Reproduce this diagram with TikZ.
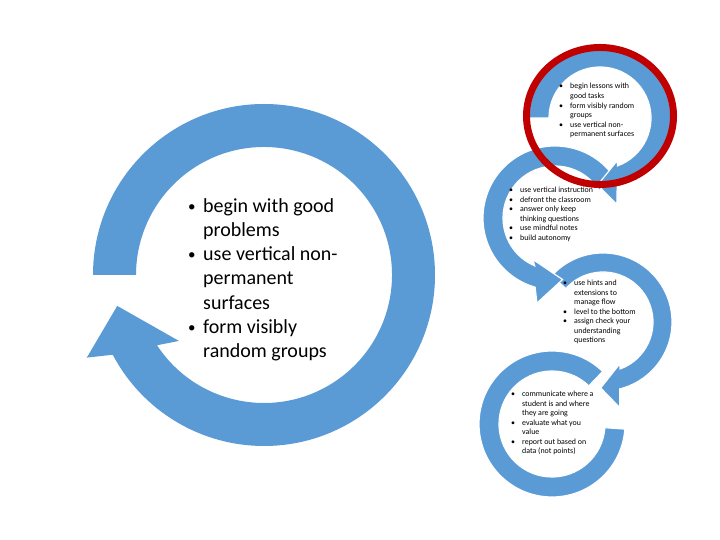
\documentclass[tikz,border=0pt]{standalone}
\usepackage{fontspec}
\setmainfont{Carlito}
\usetikzlibrary{calc}

\definecolor{arrowblue}{HTML}{5B9BD5}
\definecolor{ringred}{HTML}{C00000}

\newcommand{\bigbul}{\makebox[15pt][l]{\raisebox{1pt}{\scalebox{0.75}{\textbullet}}}}
\newcommand{\bigind}{\hspace*{15pt}}
\newcommand{\smbul}{\makebox[11pt][l]{\textbullet}}
\newcommand{\smind}{\hspace*{11pt}}

\tikzset{
  bigtext/.style={anchor=base west, inner sep=0pt, font=\fontsize{20}{24.1}\selectfont},
  smalltext/.style={anchor=base west, inner sep=0pt, font=\fontsize{7.9}{9.55}\selectfont},
  bigband/.style={fill=arrowblue},
  smallband/.style={fill=arrowblue, draw=white, line width=1.2pt},
}

\begin{document}
\begin{tikzpicture}[x=1pt, y=1pt]
    \useasboundingbox (0,0) rectangle (720,540);
    \fill[white] (0,0) rectangle (720,540);

    % large circular arrow on the left
    \begin{scope}[shift={(264,265)}]
        \fill[bigband] (180:171) arc[start angle=180, end angle=-152.2, radius=171]
            -- (-155:195.5) -- (-168.1:150) -- (-142.2:107.6) -- (-146.7:128)
            arc[start angle=-146.7, end angle=180, radius=128] -- cycle;
    \end{scope}
    \node[bigtext] (mainlist) at (188,327.3) {\parbox[t]{200pt}{%
        \bigbul begin with good\\
        \bigind problems\\
        \bigbul use vertical non-\\
        \bigind permanent\\
        \bigind surfaces\\
        \bigbul form visibly\\
        \bigind random groups}};

    % small circular arrows, bottom one first
    \begin{scope}[shift={(552,116)}]
        \filldraw[smallband] (46:73) arc[start angle=46, end angle=356, radius=73]
            -- (356:53) arc[start angle=356, end angle=46, radius=53] -- cycle;
    \end{scope}
    \begin{scope}[shift={(603,218)}]
        \filldraw[smallband] (138:69) arc[start angle=138, end angle=-76, radius=69]
            -- (-79:87) -- (-92:66) -- (-68:45) -- (-70:50)
            arc[start angle=-70, end angle=138, radius=50] -- cycle;
    \end{scope}
    \begin{scope}[shift={(555,322)}]
        \filldraw[smallband] (32:72) arc[start angle=32, end angle=254, radius=72]
            -- (258:87) -- (277:62) -- (242:47) -- (247:52)
            arc[start angle=247, end angle=32, radius=52] -- cycle;
    \end{scope}
    \begin{scope}[shift={(600,422)}]
        \filldraw[smallband] (180:71) arc[start angle=180, end angle=-76, radius=71]
            -- (-79:88) -- (-92:67) -- (-68:46) -- (-70:51)
            arc[start angle=-70, end angle=180, radius=51] -- cycle;
    \end{scope}

    % texts of the small arrows
    \node[smalltext] (stepone) at (559,451) {\parbox[t]{120pt}{%
        \smbul begin lessons with\\
        \smind good tasks\\
        \smbul form visibly random\\
        \smind groups\\
        \smbul use vertical non-\\
        \smind permanent surfaces}};
    \node[smalltext] (steptwo) at (509,347.3) {\parbox[t]{120pt}{%
        \smbul use vertical instruction\\
        \smbul defront the classroom\\
        \smbul answer only keep\\
        \smind thinking questions\\
        \smbul use mindful notes\\
        \smbul build autonomy}};
    \node[smalltext] (stepthree) at (563,254.3) {\parbox[t]{120pt}{%
        \smbul use hints and\\
        \smind extensions to\\
        \smind manage flow\\
        \smbul level to the bottom\\
        \smbul assign check your\\
        \smind understanding\\
        \smind questions}};
    \node[smalltext] (stepfour) at (511,143.3) {\parbox[t]{120pt}{%
        \smbul communicate where a\\
        \smind student is and where\\
        \smind they are going\\
        \smbul evaluate what you\\
        \smind value\\
        \smbul report out based on\\
        \smind data (not points)}};

    % red ring round the first step
    \draw[ringred, line width=7pt] (600,424) ellipse [x radius=73.5, y radius=68.5];
\end{tikzpicture}
\end{document}
